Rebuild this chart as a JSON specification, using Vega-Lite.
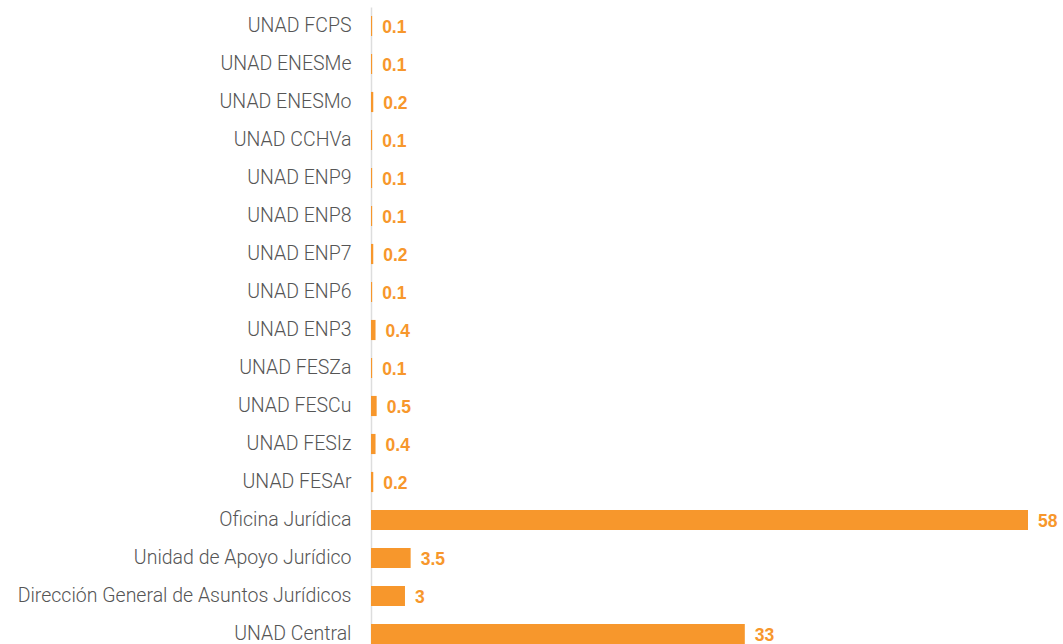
{
  "$schema": "https://vega.github.io/schema/vega-lite/v6.json",
  "width": 657,
  "height": 646,
  "autosize": {"type": "none"},
  "padding": {"left": 371, "top": 7, "right": 35, "bottom": 0},
  "background": "white",
  "config": {"view": {"stroke": null}},
  "data": {"values": [
    {"unidad": "UNAD FCPS", "valor": 0.1},
    {"unidad": "UNAD ENESMe", "valor": 0.1},
    {"unidad": "UNAD ENESMo", "valor": 0.2},
    {"unidad": "UNAD CCHVa", "valor": 0.1},
    {"unidad": "UNAD ENP9", "valor": 0.1},
    {"unidad": "UNAD ENP8", "valor": 0.1},
    {"unidad": "UNAD ENP7", "valor": 0.2},
    {"unidad": "UNAD ENP6", "valor": 0.1},
    {"unidad": "UNAD ENP3", "valor": 0.4},
    {"unidad": "UNAD FESZa", "valor": 0.1},
    {"unidad": "UNAD FESCu", "valor": 0.5},
    {"unidad": "UNAD FESIz", "valor": 0.4},
    {"unidad": "UNAD FESAr", "valor": 0.2},
    {"unidad": "Oficina Jurídica", "valor": 58},
    {"unidad": "Unidad de Apoyo Jurídico", "valor": 3.5},
    {"unidad": "Dirección General de Asuntos Jurídicos", "valor": 3},
    {"unidad": "UNAD Central", "valor": 33}
  ]},
  "encoding": {
    "y": {
      "field": "unidad", "type": "nominal", "sort": null, "title": null,
      "scale": {"paddingInner": 0.47, "paddingOuter": 0.235},
      "axis": {
        "ticks": false, "domain": true, "domainColor": "#dddddd", "domainWidth": 1.5,
        "labelFont": "Roboto", "labelFontWeight": 300, "labelFontSize": 19.5,
        "labelColor": "#555555", "labelPadding": 20, "labelLimit": 400, "labelBaseline": "middle"
      }
    },
    "x": {
      "field": "valor", "type": "quantitative", "axis": null,
      "scale": {"domain": [0, 58], "nice": false}
    }
  },
  "layer": [
    {"mark": {"type": "bar", "color": "#F7972C"}},
    {
      "mark": {"type": "text", "align": "left", "baseline": "middle", "dx": 10, "dy": 2,
               "font": "Liberation Sans", "fontWeight": "bold", "fontSize": 17.5, "color": "#F7972C"},
      "encoding": {"text": {"field": "valor", "type": "quantitative"}}
    }
  ]
}
